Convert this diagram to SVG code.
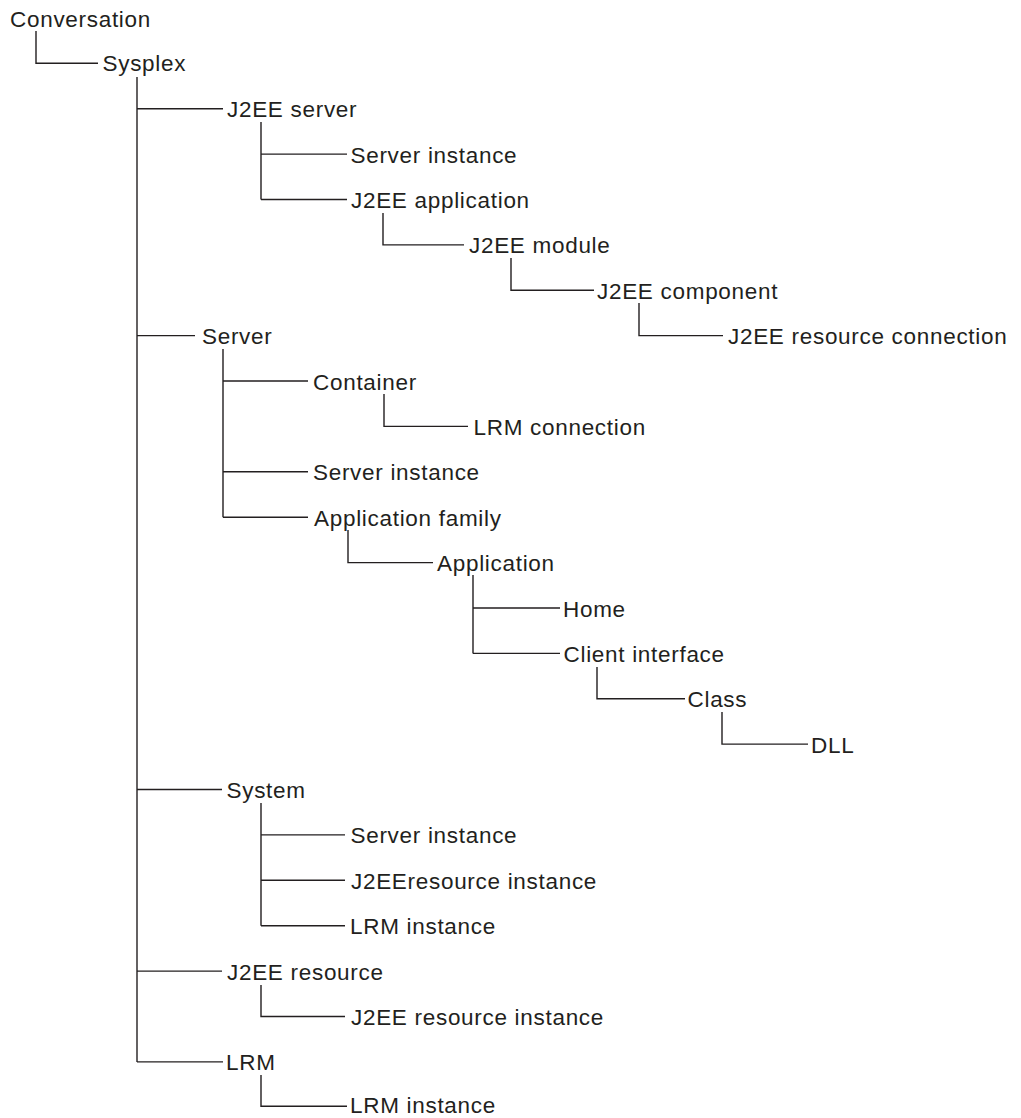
<svg xmlns="http://www.w3.org/2000/svg" width="1021" height="1118" viewBox="0 0 1021 1118">
<style>
text{font-family:"Liberation Sans",Arial,sans-serif;font-size:22.5px;letter-spacing:0.7px;fill:#231f20}
.c path{fill:none;stroke:#231f20;stroke-width:1.4}
</style>
<rect width="1021" height="1118" fill="#fff"/>
<g class="c" id="connectors">
<path d="M36 31V63.3H98"/>
<path d="M137 77V1061.9"/>
<path d="M137 108.7H223"/>
<path d="M261 122V199.5M261 154.1H347M261 199.5H347"/>
<path d="M383 213V244.9H464"/>
<path d="M511 258V290.2H594"/>
<path d="M639 303V335.6H723"/>
<path d="M137 335.6H195"/>
<path d="M223 349V517.2M223 381H308M223 471.8H308M223 517.2H308"/>
<path d="M384 394V426.4H468"/>
<path d="M348 530V562.6H433"/>
<path d="M473 575V653.4M473 608H560M473 653.4H560"/>
<path d="M597 667V698.8H685"/>
<path d="M722 712V744.1H808"/>
<path d="M137 789.5H222"/>
<path d="M261 803V925.7M261 834.9H345M261 880.3H345M261 925.7H345"/>
<path d="M137 971.1H222"/>
<path d="M261 985V1016.5H345"/>
<path d="M137 1061.9H223"/>
<path d="M261 1075V1106.3H347"/>
</g>
<g id="n-conversation"><text x="10" y="26.5">Conversation</text></g>
<g id="n-sysplex"><text x="102.5" y="71">Sysplex</text></g>
<g id="n-j2ee-server"><text x="227" y="117">J2EE server</text></g>
<g id="n-server-instance-1"><text x="350.5" y="162.5">Server instance</text></g>
<g id="n-j2ee-application"><text x="351" y="208">J2EE application</text></g>
<g id="n-j2ee-module"><text x="469" y="253">J2EE module</text></g>
<g id="n-j2ee-component"><text x="597" y="298.5">J2EE component</text></g>
<g id="n-j2ee-resource-connection"><text x="728" y="344">J2EE resource connection</text></g>
<g id="n-server"><text x="202" y="344">Server</text></g>
<g id="n-container"><text x="313" y="389.5">Container</text></g>
<g id="n-lrm-connection"><text x="473.5" y="434.5">LRM connection</text></g>
<g id="n-server-instance-2"><text x="313" y="480">Server instance</text></g>
<g id="n-application-family"><text x="314" y="525.5">Application family</text></g>
<g id="n-application"><text x="437" y="571">Application</text></g>
<g id="n-home"><text x="563" y="616.5">Home</text></g>
<g id="n-client-interface"><text x="563.5" y="661.5">Client interface</text></g>
<g id="n-class"><text x="687.5" y="707">Class</text></g>
<g id="n-dll"><text x="811" y="752.5">DLL</text></g>
<g id="n-system"><text x="226.5" y="797.5">System</text></g>
<g id="n-server-instance-3"><text x="350.5" y="843">Server instance</text></g>
<g id="n-j2eeresource-instance"><text x="351" y="888.5">J2EEresource instance</text></g>
<g id="n-lrm-instance-1"><text x="350" y="934">LRM instance</text></g>
<g id="n-j2ee-resource"><text x="227" y="979.5">J2EE resource</text></g>
<g id="n-j2ee-resource-instance"><text x="351" y="1025">J2EE resource instance</text></g>
<g id="n-lrm"><text x="226" y="1070">LRM</text></g>
<g id="n-lrm-instance-2"><text x="350" y="1113">LRM instance</text></g>
</svg>
